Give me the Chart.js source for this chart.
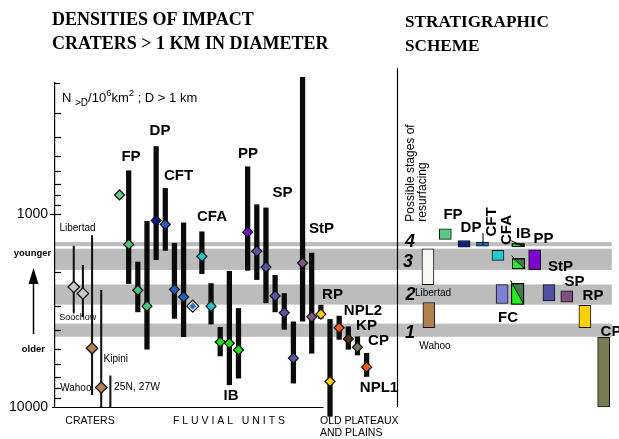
<!DOCTYPE html>
<html><head><meta charset="utf-8">
<script src="https://cdn.jsdelivr.net/npm/chart.js@4.4.1/dist/chart.umd.min.js"></script>
<style>html,body{margin:0;padding:0;background:#fff;}#wrap{position:relative;width:619px;height:439px;}</style>
</head><body><div id="wrap"><canvas id="c" width="619" height="439"></canvas></div>
<script>
// ---------------- DATA ----------------
// y: crater density N(>1km) per 10^6 km^2 ; x: slot index along the figure
const yTickValues = [300,400,500,600,700,800,900,1000,2000,3000,4000,5000,6000,7000,8000,9000,10000];
const yTickLabels = {1000:'1000', 10000:'10000'};

// resurfacing stages (grey bands)
const bandNames = ['4','3','2','1'];
const bandLow  = [1400,1515,2320,3700];
const bandHigh = [1470,1950,2950,4330];

// craters (thin lines)
const craterNames = ['Libertad','Soochow','Kipini','Wahoo','25N, 27W'];
const craterSlots = [0,1,2,3,4];
const craterLow   = [1469,1847,1294,2485,6899];
const craterHigh  = [3265,3412,8645,10000,10000];
const craterPointSlots  = [0,1,2,3];
const craterPointValues = [2389,2584,4966,7925];
const craterPointColors = ['#c9c9c9','#c9c9c9','#b3814f','#b3814f'];

// fluvial units and old plateaux/plains (thick bars)
const unitSlots = [6,7,8,9,10,11,12,14,15,16,17,18,19,20,21,22,23,24,25,26,27,28,29,30,31,32];
const unitLow   = [598,1776,1092,448,738,1418,1113,1238,2295,3868,1984,3088,570,896,931,2080,2584,3622,196,1596,2970,3519,3383,3841,4325,5268];
const unitHigh  = [2295,3216,5023,1726,1546,3477,4325,2039,3721,5441,7674,7087,1960,2189,2889,3216,3962,7520,3591,5268,3477,11180,4462,5023,5376,6950];

const pointSlots  = [5,6,7,8,9,10,11,12,14,15,16,17,18,19,20,21,22,23,24,25,26,27,28,29,30,31,32];
const pointValues = [798,1439,2485,3004,1083,1135,2464,2692,1660,3004,4607,4677,5065,1244,1559,1885,2660,3252,5588,1797,3412,3304,7380,3887,4445,4906,6218];
const pointColors = ['#66cc8e','#4cc47c','#4cc47c','#4cc47c','#0c1a82','#1e60be','#1e60be','#1e60be',
  '#22c6d2','#22c6d2','#22dd22','#22dd22','#22dd22','#7a10c8','#5555a5','#5555a5','#5555a5','#5555a5','#5555a5',
  '#7f5a80','#7f5a80','#ffcc00','#ffcc00','#ff5a10','#5a3512','#7d7a5a','#ff5a10'];
const ringSlots  = [13];
const ringValues = [3004];
const ringColors = ['#2f6fcf'];

// stratigraphic scheme boxes
const schemeNames  = ['Libertad','Wahoo','FP','DP','CFT','CFA','PP','FC','SP','StP','RP','CP'];
const schemeSlots  = [38.7,38.8,40.6,42.65,44.66,46.35,50.36,46.8,51.92,53.87,55.85,57.9];
const schemeLow    = [1515,2877,1195,1373,1401,1546,1533,2323,2323,2505,2971,4360];
const schemeHigh   = [2323,3889,1356,1486,1469,1740,1944,2911,2820,2864,3889,10000];
const schemeColors = ['#f7f7f2','#b0804f','#55cc82','#102080','#2468c0','#22c8d0','#8000d0','#8080d8','#5050a8','#805080','#ffd000','#7b7b55'];
const splitNames = ['IB','IB','IB'];
const splitSlots = [48.56,48.6,48.5];
const splitLow   = [1428,1706,2295];
const splitHigh  = [1474,1921,2932];

// ---------------- LAYOUT ----------------
const X_MIN = -2.05, X_MAX = 58.79;
const Y_MIN = 210, Y_MAX = 10000;
const SEP_SLOT = 35.27, BASE_END_SLOT = 27.29, SEP_TOP = 176;
const SANS = "'Liberation Sans', Arial, sans-serif";
const SERIF = "'Liberation Serif', 'Times New Roman', serif";
const BAND_COLOR = '#bcbcbc';

const xy = (s, v) => s.map((x,i)=>({x, y: v[i]}));
const xr = (s, lo, hi) => s.map((x,i)=>({x, y:[lo[i], hi[i]]}));

function txt(ctx, s, x, yc, font, size, align, rot){
  ctx.save();
  ctx.font = font.replace('SZ', size+'px');
  ctx.fillStyle = '#000';
  ctx.textAlign = align || 'center';
  ctx.textBaseline = 'alphabetic';
  ctx.translate(x, yc);
  if (rot) ctx.rotate(rot);
  ctx.fillText(s, 0, 0.36*size);
  ctx.restore();
}

const deco = {
  id: 'deco',
  beforeDraw(chart){
    const {ctx, chartArea:a, scales:{y}} = chart;
    ctx.save();
    ctx.fillStyle = BAND_COLOR;
    bandLow.forEach((lo,i)=>{
      const t = y.getPixelForValue(lo), b = y.getPixelForValue(bandHigh[i]);
      ctx.fillRect(a.left, t, a.right - a.left, b - t);
    });
    ctx.restore();
  },
  afterDatasetsDraw(chart){
    const {ctx} = chart;
    const idx = chart.data.datasets.findIndex(d=>d.label==='split');
    const meta = chart.getDatasetMeta(idx);
    ctx.save();
    meta.data.forEach(el=>{
      const p = el.getProps(['x','y','base','width'], true);
      const l = p.x - p.width/2, r = p.x + p.width/2;
      const t = Math.min(p.y, p.base), b = Math.max(p.y, p.base);
      ctx.fillStyle = '#22ee22';
      ctx.beginPath(); ctx.moveTo(l,t); ctx.lineTo(l,b); ctx.lineTo(r,b); ctx.closePath(); ctx.fill();
      ctx.strokeStyle = '#000'; ctx.lineWidth = 1;
      ctx.strokeRect(l, t, r-l, b-t);
      ctx.beginPath(); ctx.moveTo(l-1, t-3); ctx.lineTo(r, b); ctx.stroke();
    });
    ctx.restore();
  },
  afterDraw(chart){
    const {ctx, chartArea:a, scales:{x,y}} = chart;
    ctx.save();
    ctx.strokeStyle = '#000'; ctx.lineWidth = 1.2;
    // inward ticks
    y.ticks.forEach(t=>{
      if (t.value === 10000) return;
      const p = Math.round(y.getPixelForValue(t.value)) + 0.5;
      ctx.beginPath(); ctx.moveTo(a.left - (t.value===1000 ? 5 : 0), p); ctx.lineTo(a.left + 6, p); ctx.stroke();
    });
    ctx.beginPath(); ctx.moveTo(a.left, a.top+0.5); ctx.lineTo(a.left+5, a.top+0.5); ctx.stroke();
    // baseline
    const yb = Math.round(a.bottom) + 0.5;
    ctx.beginPath(); ctx.moveTo(a.left - 3, yb); ctx.lineTo(x.getPixelForValue(BASE_END_SLOT), yb); ctx.stroke();
    // separator of the stratigraphic scheme
    const xs = Math.round(x.getPixelForValue(SEP_SLOT)) + 0.5;
    ctx.beginPath(); ctx.moveTo(xs, y.getPixelForValue(SEP_TOP)); ctx.lineTo(xs, a.bottom); ctx.stroke();
    // small mark before CFT
    ctx.lineWidth = 1;
    ctx.beginPath(); ctx.moveTo(483, 233); ctx.lineTo(483, 245.5); ctx.stroke();
    // arrow younger/older
    ctx.lineWidth = 1.5;
    ctx.beginPath(); ctx.moveTo(33.5, 334); ctx.lineTo(33.5, 280); ctx.stroke();
    ctx.fillStyle = '#000';
    ctx.beginPath(); ctx.moveTo(33.5, 268); ctx.lineTo(28.5, 284); ctx.lineTo(38.5, 284); ctx.closePath(); ctx.fill();
    ctx.restore();

    const B = "bold SZ " + SANS, R = "SZ " + SANS, TB = "bold SZ " + SERIF, BI = "italic bold SZ " + SANS;
    // titles
    txt(ctx,'DENSITIES OF IMPACT',52,19,TB,18,'left');
    txt(ctx,'CRATERS > 1 KM IN DIAMETER',52,43,TB,18,'left');
    txt(ctx,'STRATIGRAPHIC',405,20.5,TB,17.2,'left');
    txt(ctx,'SCHEME',405,44.5,TB,17.2,'left');
    // axis title N>D/10^6 km^2 ; D > 1 km
    ctx.save();
    ctx.fillStyle = '#000'; ctx.textBaseline = 'alphabetic'; ctx.textAlign = 'left';
    let cx = 62; const by = 102;
    const part = (s, size, dy) => { ctx.font = size + 'px ' + SANS; ctx.fillText(s, cx, by + dy); cx += ctx.measureText(s).width; };
    part('N ', 13, 0); part('>D', 10, 4); part('/10', 13, 0); part('6', 9.5, -6); part('km', 13, 0); part('2', 9.5, -6); part(' ; D > 1 km', 13, 0);
    ctx.restore();
    // y side labels
    txt(ctx,'younger',32.5,253,B,9.5);
    txt(ctx,'older',33.3,349,B,9.5);
    // unit labels
    [['FP',131,156],['DP',160,130],['CFT',178.5,175],['CFA',212,216],['PP',248,153],['SP',282.5,192],
     ['StP',321.5,227.5],['IB',231,395],['RP',332.5,294],['NPL2',363,310],['KP',366.5,325],['CP',378.5,340],['NPL1',379,387]]
      .forEach(l=>txt(ctx,l[0],l[1],l[2],B,15));
    // crater labels
    txt(ctx,'Libertad',77.5,227,R,10);
    txt(ctx,'Soochow',77.7,317,R,9);
    txt(ctx,'Kipini',115.8,358.5,R,10);
    txt(ctx,'Wahoo',75.8,387,R,10);
    txt(ctx,'25N, 27W',137,386,R,10.3);
    // bottom group labels
    txt(ctx,'CRATERS',90,420,R,10.5);
    txt(ctx,'F L U V I A L   U N I T S',229,420,R,10.5);
    txt(ctx,'OLD PLATEAUX',320,420,R,10.5,'left');
    txt(ctx,'AND PLAINS',320,432,R,10.5,'left');
    // stratigraphic scheme labels
    txt(ctx,'Possible stages of',410,221.7,R,12,'left',-Math.PI/2);
    txt(ctx,'resurfacing',421.7,221.7,R,12,'left',-Math.PI/2);
    [['4',410,240.5],['3',408,260.5],['2',410.5,293.5],['1',410,331.5]].forEach(l=>txt(ctx,l[0],l[1],l[2],BI,18));
    [['FP',453,214],['DP',471,227],['IB',523.5,232.5],['PP',543.5,237.5],['StP',560.5,266],['SP',574.5,280.5],
     ['RP',593,294.5],['CP',611,331],['FC',508,316.7]].forEach(l=>txt(ctx,l[0],l[1],l[2],B,15));
    txt(ctx,'CFT',491,222,B,15,'center',-Math.PI/2);
    txt(ctx,'CFA',506,230,B,15,'center',-Math.PI/2);
    txt(ctx,'Libertad',433,292.5,R,10);
    txt(ctx,'Wahoo',435,345,R,10);
  }
};

const barBase = {type:'bar', grouped:false, clip:false, borderSkipped:false};
const ptBase = {type:'scatter', clip:false, pointStyle:'rectRot', borderColor:'#111', showLine:false};

new Chart(document.getElementById('c'), {
  type: 'bar',
  data: { datasets: [
    {...ptBase, label:'fluvial points', order:1, data: xy(pointSlots, pointValues), backgroundColor: pointColors, pointRadius:5, borderWidth:1.2},
    {...ptBase, label:'ring inner', order:0, data: xy(ringSlots, ringValues), backgroundColor: ringColors, pointRadius:3.6, borderWidth:0},
    {...ptBase, label:'ring outer', order:2, data: xy(ringSlots, ringValues), backgroundColor: '#ffffff', pointRadius:6, borderWidth:1.2},
    {...ptBase, label:'crater points', order:3, data: xy(craterPointSlots, craterPointValues), backgroundColor: craterPointColors, pointRadius:5.7, borderWidth:1.3},
    {...barBase, label:'units', order:5, data: xr(unitSlots, unitLow, unitHigh), backgroundColor:'#0a0a0a', barThickness:4.6, borderWidth:0},
    {...barBase, label:'craters', order:6, data: xr(craterSlots, craterLow, craterHigh), backgroundColor:'#111', barThickness:1.4, borderWidth:0},
    {...barBase, label:'scheme', order:7, data: xr(schemeSlots, schemeLow, schemeHigh), backgroundColor: schemeColors, borderColor:'#111', borderWidth:1, barThickness:12},
    {...barBase, label:'split', order:8, data: xr(splitSlots, splitLow, splitHigh), backgroundColor:'#3f7f45', borderColor:'#111', borderWidth:1, barThickness:12}
  ]},
  options: {
    responsive:false, animation:false, events:[],
    layout:{padding:{left:0,right:0,top:83,bottom:32}},
    plugins:{legend:{display:false}, tooltip:{enabled:false}},
    scales:{
      x:{type:'linear', min:X_MIN, max:X_MAX, offset:false, display:false},
      y:{type:'logarithmic', reverse:true, min:Y_MIN, max:Y_MAX, position:'left', stacked:false,
         afterFit(s){ s.width = 55; },
         afterBuildTicks(s){ s.ticks = yTickValues.map(v=>({value:v})); },
         grid:{display:false, drawTicks:false},
         border:{display:true, color:'#000', width:1.2},
         ticks:{autoSkip:false, padding:7, color:'#000', font:{family:"'Liberation Sans', Arial, sans-serif", size:14},
                callback:(v)=> yTickLabels[v] || ''}
      }
    }
  },
  plugins:[deco]
});
</script></body></html>
